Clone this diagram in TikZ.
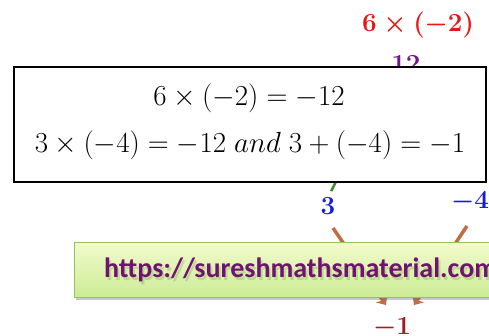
\RequirePackage{fix-cm}
\documentclass[tikz,border=0pt]{standalone}
\usepackage{fontspec}
\newfontfamily\carlito{Carlito}
\usetikzlibrary{arrows.meta,shadows}
\definecolor{redA}{RGB}{232,22,22}
\definecolor{purA}{RGB}{112,22,140}
\definecolor{bluA}{RGB}{25,25,230}
\definecolor{brnA}{RGB}{190,110,70}
\definecolor{grnA}{RGB}{60,140,50}
\definecolor{marA}{RGB}{160,30,35}
\definecolor{banTop}{RGB}{242,251,205}
\definecolor{banBot}{RGB}{205,236,150}
\definecolor{banEdge}{RGB}{150,195,85}
\definecolor{urlC}{RGB}{110,20,110}
\tikzset{
  boldlbl/.style={inner sep=0pt, font=\fontsize{26}{30}\selectfont\boldmath},
  eqline/.style={inner sep=0pt, font=\fontsize{29}{34}\selectfont},
  eqbox/.style={draw=black, line width=1.3pt, fill=white},
  brarrow/.style={draw=brnA, line width=3.5pt, -{Stealth[width=14pt,length=8pt]}},
  grline/.style={draw=grnA, line width=2.5pt},
  banner/.style={draw=banEdge, line width=1pt, top color=banTop, bottom color=banBot,
     drop shadow={shadow xshift=2pt, shadow yshift=-3pt, opacity=0.35, fill=black!60}},
  urltext/.style={inner sep=0pt, text=urlC, font=\carlito\bfseries\fontsize{28}{32}\selectfont}
}
\begin{document}
\begin{tikzpicture}[x=1pt,y=-1pt]
\path[use as bounding box, clip] (0,0) rectangle (489,335);
\fill[white] (0,0) rectangle (489,335);
% top labels
\node[boldlbl, text=redA] (prod) at (418,25) {$6\times(-2)$};
\node[boldlbl, text=purA] (twelve) at (406,64) {$12$};
% lower labels
\node[boldlbl, text=bluA] (three) at (328,206) {$3$};
\node[boldlbl, text=bluA, anchor=west] (mfour) at (451,202) {$-4$};
\node[boldlbl, text=marA] (mone) at (392,328) {$-1$};
% green connector (mostly hidden behind the box)
\draw[grline, shorten >=7pt] (twelve.south west) -- (three.north);
% brown arrows (pass behind banner)
\coordinate (s3) at (333,228);
\coordinate (e3) at (386,305);
\coordinate (s4) at (467,226);
\coordinate (e4) at (414,305);
\draw[brarrow] (s3) -- (e3);
\draw[brarrow] (s4) -- (e4);
% equation box
\path[eqbox] (14,67) rectangle (486,182);
\node[eqline, anchor=base] (l1) at (249,105) {$6\times(-2)=-12$};
\node[eqline, anchor=base] (l2) at (250,152) {$3\times(-4)=-12\;and\;3+(-4)=-1$};
% banner
\path[banner] (74,242) rectangle (520,297);
\node[urltext, text=black, opacity=0.12, anchor=base west] (urlsh) at (106,280) {https://sureshmathsmaterial.com};
\node[urltext, anchor=base west] (url) at (104,277) {https://sureshmathsmaterial.com};
\end{tikzpicture}
\end{document}
